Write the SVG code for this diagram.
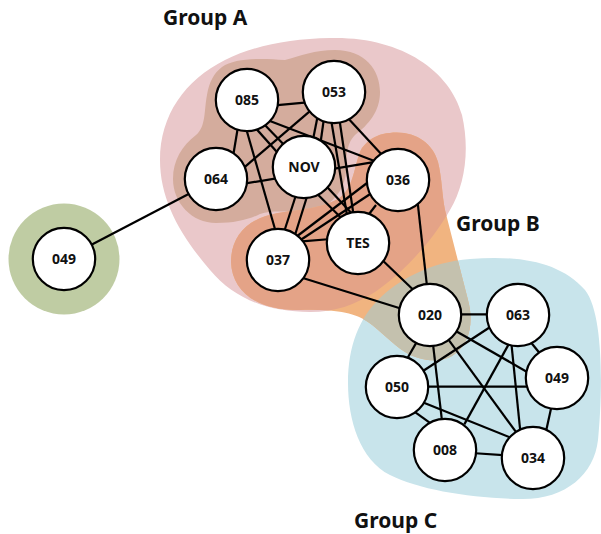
<svg xmlns="http://www.w3.org/2000/svg" width="601" height="534" viewBox="0 0 601 534">
<style>
.node circle{fill:#fff;stroke:#000;stroke-width:2.2}
.node text{font-family:"Noto Sans","Open Sans",sans-serif;font-weight:700;font-size:14px;text-anchor:middle;fill:#111}
.edges path{stroke:#000;stroke-width:2.2;fill:none}
.label{font-family:"Noto Sans","Open Sans",sans-serif;font-weight:700;font-size:21px;fill:#111}
</style>
<defs>
<path id="pinkShape" d="M 330,38 C 400,36 450,70 462,115 C 470,150 465,185 450,210 C 430,245 400,275 375,292 C 355,305 335,312 310,312 C 270,312 235,300 210,270 C 180,235 160,200 160,160 C 160,115 185,80 225,60 C 255,45 290,39 330,38 Z"/>
<path id="blueShape" d="M 348,383 C 348,345 360,318 378,300 C 398,280 430,262 470,259 C 520,255 560,262 585,290 C 605,315 602,400 598,440 C 594,475 565,500 520,499 C 470,498 420,490 390,475 C 360,460 348,420 348,383 Z"/>
<path id="orangeShape" d="M 383,134 C 410,128 432,140 438,162 C 442,178 442,195 445,210 L 468,300 C 474,322 470,345 452,356 C 438,364 418,360 405,352 C 392,344 380,330 368,322 C 355,313 335,309 300,310 C 258,311 232,292 231,262 C 231,236 248,218 278,213 C 305,209 330,207 343,195 C 355,183 355,160 362,148 C 368,140 375,136 383,134 Z"/>
<clipPath id="clipPink"><use href="#pinkShape"/></clipPath>
<clipPath id="clipBlue"><use href="#blueShape"/></clipPath>
</defs>
<g id="groups">
<circle cx="64" cy="259" r="55.5" fill="#bfcca3"/>
<use href="#pinkShape" fill="#eac8ca"/>
<path d="M 222,67 C 235,58 260,58 285,60 C 300,56 315,50 335,50 C 365,50 380,70 380,92 C 380,112 368,125 355,135 C 345,145 347,160 346,172 C 344,195 325,212 302,212 C 285,212 272,210 260,214 C 248,220 235,223 216,223 C 192,223 173,203 173,179 C 173,160 182,146 196,135 C 206,127 204,110 207,95 C 209,82 214,73 222,67 Z" fill="#d4ac9d"/>
<use href="#blueShape" fill="#c8e4eb"/>
<use href="#orangeShape" fill="#f1b480"/>
<use href="#orangeShape" fill="#e4a387" clip-path="url(#clipPink)"/>
<use href="#orangeShape" fill="#c4c1ae" clip-path="url(#clipBlue)"/>
</g>
<g id="edges" class="edges">
<path d="M272,105.6 L310,102.2"/>
<path d="M238.3,124.7 L233,156.7"/>
<path d="M312,109.3 L239.7,171.3"/>
<path d="M245,124.7 L276.7,235"/>
<path d="M252.7,124.8 L280.7,156.2"/>
<path d="M262,122 L289,150"/>
<path d="M266,119.5 L377,162"/>
<path d="M317.5,117 L312.5,142"/>
<path d="M324,118 L320.5,143"/>
<path d="M330.8,118 L347.5,218"/>
<path d="M339.2,118 L354,218"/>
<path d="M346,116 L383,156"/>
<path d="M240,184.4 L372,162.4"/>
<path d="M296.5,193.5 L283.5,233.5"/>
<path d="M308,193.5 L295,235"/>
<path d="M314.8,191.5 L343.5,220.2"/>
<path d="M324.8,184.6 L355,217"/>
<path d="M371,180 L296,237"/>
<path d="M374,191.5 L297.5,242"/>
<path d="M376,205 L366,218"/>
<path d="M302,241.3 L331,239"/>
<path d="M417.7,203 L427.3,289"/>
<path d="M381.4,259.3 L415.3,291.8"/>
<path d="M302,277.8 L404.7,309.8"/>
<path d="M90,245.4 L191,192.7"/>
<path d="M457,314.3 L491,314.3"/>
<path d="M417.5,340.6 L405.8,361"/>
<path d="M432.7,341.7 L442.3,423.3"/>
<path d="M447,337.6 L516.3,432.4"/>
<path d="M452.3,329 L531,374.2"/>
<path d="M492.5,325.5 L423,371"/>
<path d="M510.7,340.6 L464.3,424.4"/>
<path d="M511.2,341.7 L520.5,433.3"/>
<path d="M529,340 L539.5,353"/>
<path d="M424,386.7 L530,386.7"/>
<path d="M422,402 L513,438.6"/>
<path d="M412.6,410.4 L432.4,424.6"/>
<path d="M471.7,453 L506.7,455.3"/>
<path d="M551.8,405 L545.6,433.2"/>
</g>
<g id="n085" class="node"><circle cx="247" cy="100" r="31.2"/><text x="247" y="105">085</text></g>
<g id="n053" class="node"><circle cx="334" cy="92" r="31.2"/><text x="334" y="97">053</text></g>
<g id="n064" class="node"><circle cx="216" cy="179" r="31.2"/><text x="216" y="184">064</text></g>
<g id="nNOV" class="node"><circle cx="304" cy="167" r="31.2"/><text x="304" y="172">NOV</text></g>
<g id="n036" class="node"><circle cx="398" cy="180" r="31.2"/><text x="398" y="185">036</text></g>
<g id="nTES" class="node"><circle cx="358" cy="243" r="31.2"/><text x="358" y="248">TES</text></g>
<g id="n037" class="node"><circle cx="278" cy="260" r="31.2"/><text x="278" y="265">037</text></g>
<g id="n020" class="node"><circle cx="430" cy="315" r="31.2"/><text x="430" y="320">020</text></g>
<g id="n063" class="node"><circle cx="518" cy="315" r="31.2"/><text x="518" y="320">063</text></g>
<g id="n049c" class="node"><circle cx="557" cy="378" r="31.2"/><text x="557" y="383">049</text></g>
<g id="n050" class="node"><circle cx="397" cy="387" r="31.2"/><text x="397" y="392">050</text></g>
<g id="n008" class="node"><circle cx="445" cy="450" r="31.2"/><text x="445" y="455">008</text></g>
<g id="n034" class="node"><circle cx="533" cy="458" r="31.2"/><text x="533" y="463">034</text></g>
<g id="n049" class="node"><circle cx="64" cy="259" r="31.2"/><text x="64" y="264">049</text></g>
<g id="labels">
<text class="label" x="163" y="25">Group A</text>
<text class="label" x="456" y="231">Group B</text>
<text class="label" x="354" y="528">Group C</text>
</g>
</svg>
